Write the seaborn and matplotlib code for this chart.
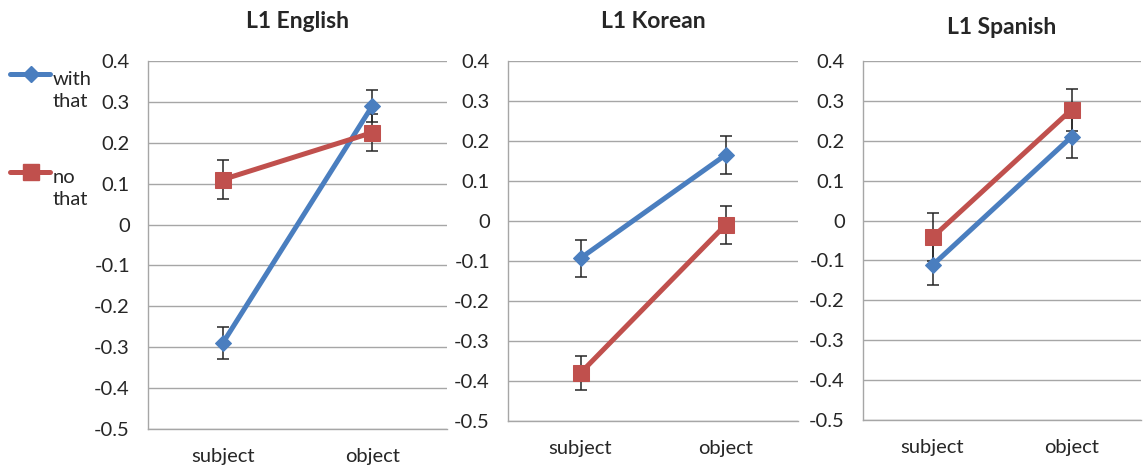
import numpy as np
import seaborn as sns
import matplotlib.pyplot as plt
import pandas as pd
from matplotlib.lines import Line2D

# data
panels = ["L1 English", "L1 Korean", "L1 Spanish"]
positions = ["subject", "object"]
series = ["with that", "no that"]

with_mean = [[-0.29, 0.29], [-0.093, 0.165], [-0.112, 0.21]]
with_err = [[0.04, 0.04], [0.046, 0.047], [0.05, 0.053]]
no_mean = [[0.11, 0.225], [-0.38, -0.01], [-0.042, 0.278]]
no_err = [[0.047, 0.045], [0.042, 0.048], [0.06, 0.053]]

yticks = [0.4, 0.3, 0.2, 0.1, 0, -0.1, -0.2, -0.3, -0.4, -0.5]
ytick_labels = ["0.4", "0.3", "0.2", "0.1", "0", "-0.1", "-0.2", "-0.3", "-0.4", "-0.5"]

rows = []
for p, name in enumerate(panels):
    for i, pos in enumerate(positions):
        rows.append(dict(panel=name, position=pos, series="with that",
                         score=with_mean[p][i], err=with_err[p][i]))
        rows.append(dict(panel=name, position=pos, series="no that",
                         score=no_mean[p][i], err=no_err[p][i]))
df = pd.DataFrame(rows)

sns.set_style("white")
plt.rcParams["font.family"] = ["Lato", "DejaVu Sans"]

pal = {"with that": "#4A7EBF", "no that": "#C0504D"}
marks = {"with that": "D", "no that": "s"}
sizes = {"with that": 8, "no that": 11}
grid_col = "#A6A6A6"
text_col = "#262626"
fs = 14.5

fig = plt.figure(figsize=(11.43, 4.65), dpi=100)
boxes = [
    [148 / 1143, 1 - 429 / 465, 299 / 1143, 368 / 465],
    [508 / 1143, 1 - 421 / 465, 290 / 1143, 360 / 465],
    [863 / 1143, 1 - 420 / 465, 278 / 1143, 359 / 465],
]
title_y = [1 - 22 / 465, 1 - 21 / 465, 1 - 28 / 465]

for p, name in enumerate(panels):
    ax = fig.add_axes(boxes[p])
    sub = df[df.panel == name]
    for s in series:
        d = sub[sub.series == s]
        x = [positions.index(v) for v in d.position]
        ax.errorbar(x, d.score, yerr=d.err, fmt="none", ecolor=text_col,
                    elinewidth=1.1, capsize=4, capthick=1.1, zorder=3)
        sns.lineplot(x=x, y=d.score.values, ax=ax, color=pal[s], lw=3.6,
                     marker=marks[s], markersize=sizes[s], markeredgecolor=pal[s],
                     zorder=4)

    ax.set_xlim(-0.5, 1.5)
    ax.set_ylim(-0.5, 0.4)
    ax.set_yticks(yticks)
    ax.set_yticklabels(ytick_labels)
    ax.set_xticks([0, 1])
    ax.set_xticklabels(positions)
    ax.set_xticks([-0.5, 0.5, 1.5], minor=True)
    ax.tick_params(axis="x", which="major", length=0, labelsize=fs, pad=14,
                   colors=text_col)
    ax.tick_params(axis="x", which="minor", length=5, width=1, color=grid_col,
                   direction="out")
    ax.tick_params(axis="y", length=5, width=1, color=grid_col, labelsize=fs,
                   pad=8, labelcolor=text_col)
    ax.yaxis.grid(True, color=grid_col, lw=1)
    ax.set_axisbelow(True)
    for side in ["top", "right"]:
        ax.spines[side].set_visible(False)
    for side in ["left", "bottom"]:
        ax.spines[side].set_color(grid_col)
        ax.spines[side].set_linewidth(1)
    ax.set_xlabel("")
    ax.set_ylabel("")
    fig.text(boxes[p][0] + boxes[p][2] * 0.5, title_y[p], name,
             ha="center", va="center", fontsize=16.5, fontweight="bold",
             color=text_col)

# legend at the far left, drawn by hand so the marker sits on the first text line
legend_y = [1 - 74 / 465, 1 - 172 / 465]
legend_text = ["with\nthat", "no\nthat"]
for s, ly, lt in zip(series, legend_y, legend_text):
    fig.add_artist(Line2D([10 / 1143, 50 / 1143], [ly, ly], color=pal[s], lw=3.6,
                          transform=fig.transFigure))
    fig.add_artist(Line2D([31 / 1143], [ly], color=pal[s], marker=marks[s],
                          markersize=sizes[s], markeredgecolor=pal[s], lw=0,
                          transform=fig.transFigure))
    fig.text(53 / 1143, ly + 3 / 465, lt, ha="left", va="top", fontsize=fs,
             color=text_col, linespacing=1.35)

fig.savefig("out.png", dpi=100)
